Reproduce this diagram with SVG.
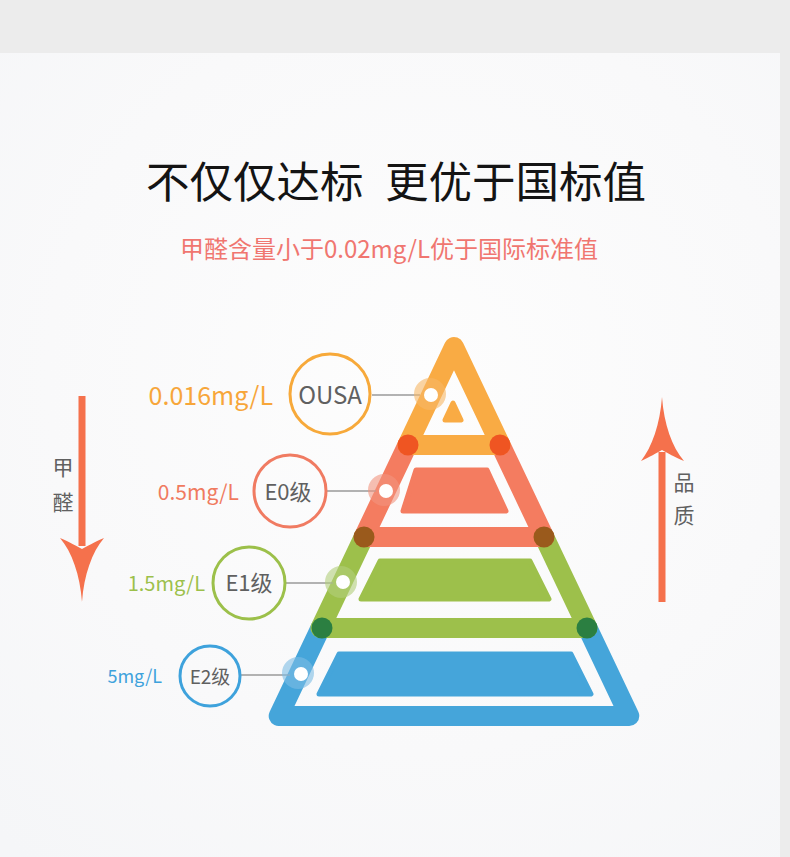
<svg xmlns="http://www.w3.org/2000/svg" width="790" height="857" viewBox="0 0 790 857">
  <defs>
    <radialGradient id="bg" cx="420" cy="380" r="620" gradientUnits="userSpaceOnUse">
      <stop offset="0" stop-color="#fdfdfd"/>
      <stop offset="0.6" stop-color="#f9f9fa"/>
      <stop offset="1" stop-color="#f5f6f8"/>
    </radialGradient>
    <style>
      text { font-family: "Noto Sans CJK SC", "Noto Sans", sans-serif; }
      .tier { fill: none; stroke-width: 20; stroke-linejoin: round; }
      .inner { stroke-width: 5; stroke-linejoin: round; }
      .conn { stroke: #9a9a9a; stroke-width: 1.6; fill: none; }
      .ring { fill: none; stroke-width: 3; }
      .lbl { fill: #606060; text-anchor: middle; }
      .val { text-anchor: end; }
      .dot { fill: #ffffff; }
      .halo { opacity: 0.6; }
      .arrow { fill: #f5714c; }
    </style>
  </defs>

  <rect x="0" y="0" width="790" height="857" fill="#ececec"/>
  <rect x="0" y="53" width="780" height="804" fill="url(#bg)"/>

  <text x="146" y="198" font-size="43.5" fill="#141414">不仅仅达标 <tspan x="385">更优于国标值</tspan></text>
  <text x="389" y="258" font-size="24" fill="#f07670" text-anchor="middle">甲醛含量小于0.02mg/L优于国际标准值</text>

  <g id="arrow-down">
    <rect class="arrow" x="78.5" y="396" width="7" height="150"/>
    <path class="arrow" d="M82,602 C80,575 72,552 60,538 C70,542 76,546 82,549 C88,546 94,542 104,538 C92,552 84,575 82,602 Z"/>
    <text class="lbl" x="63" y="475" font-size="21">甲</text>
    <text class="lbl" x="63" y="510" font-size="21">醛</text>
  </g>

  <g id="arrow-up">
    <rect class="arrow" x="658.5" y="452" width="7" height="150"/>
    <path class="arrow" d="M662,397 C660,424 652,447 641,461 C650,457 656,453 662,450 C668,453 674,457 684,461 C672,447 664,424 662,397 Z"/>
    <text class="lbl" x="684" y="490" font-size="21">品</text>
    <text class="lbl" x="684" y="523" font-size="21">质</text>
  </g>

  <g id="tier-blue">
    <polygon class="tier" stroke="#45a5da" points="320.5,628 278.7,716 629.3,716 587.5,628"/>
    <polygon class="inner" fill="#45a5da" stroke="#45a5da" points="339,654 571,654 591,694 319,694"/>
  </g>
  <g id="tier-green">
    <polygon class="tier" stroke="#9dc04b" points="363.8,537 320.5,628 587.5,628 544.2,537"/>
    <polygon class="inner" fill="#9dc04b" stroke="#9dc04b" points="380,561 530,561 549,599 361,599"/>
  </g>
  <g id="tier-red">
    <polygon class="tier" stroke="#f47c60" points="407.5,445 363.8,537 544.2,537 500.5,445"/>
    <polygon class="inner" fill="#f47c60" stroke="#f47c60" points="416,470 487,470 506,511 403,511"/>
  </g>
  <g id="tier-orange">
    <polygon class="tier" stroke="#f9ab44" points="454,347 407.5,445 500.5,445"/>
    <polygon class="inner" fill="#f9ab44" stroke="#f9ab44" points="453,403 461,420 445,420"/>
  </g>

  <g id="joints">
    <circle cx="408" cy="445" r="10.5" fill="#ef5522"/>
    <circle cx="500" cy="445" r="10.5" fill="#ef5522"/>
    <circle cx="364" cy="537" r="10.5" fill="#9a5a1c"/>
    <circle cx="544" cy="537" r="10.5" fill="#9a5a1c"/>
    <circle cx="322" cy="628" r="10.5" fill="#2b7f41"/>
    <circle cx="587" cy="628" r="10.5" fill="#2b7f41"/>
  </g>

  <g id="connectors">
    <line class="conn" x1="372" y1="395" x2="420" y2="395"/>
    <line class="conn" x1="327" y1="491" x2="376" y2="491"/>
    <line class="conn" x1="285" y1="583" x2="333" y2="583"/>
    <line class="conn" x1="241" y1="675" x2="290" y2="675"/>
  </g>

  <g id="node-ousa">
    <circle class="halo" cx="430" cy="394" r="16" fill="#f7b765"/>
    <circle class="dot" cx="431" cy="395" r="7"/>
    <circle class="ring" cx="330" cy="394" r="40" stroke="#f7a93a"/>
    <text class="lbl" x="330" y="404" font-size="24">OUSA</text>
    <text class="val" x="273" y="405" font-size="25" fill="#f7a63a">0.016mg/L</text>
  </g>
  <g id="node-e0">
    <circle class="halo" cx="384" cy="490" r="16" fill="#f2957f"/>
    <circle class="dot" cx="386" cy="491" r="7"/>
    <circle class="ring" cx="290" cy="491" r="36" stroke="#f07b62"/>
    <text class="lbl" x="288" y="500" font-size="22">E0级</text>
    <text class="val" x="239" y="500" font-size="21" fill="#f07a5f">0.5mg/L</text>
  </g>
  <g id="node-e1">
    <circle class="halo" cx="341" cy="582" r="16" fill="#b3cf7c"/>
    <circle class="dot" cx="343" cy="582" r="7"/>
    <circle class="ring" cx="249" cy="583" r="36" stroke="#9cc04a"/>
    <text class="lbl" x="249" y="591" font-size="22">E1级</text>
    <text class="val" x="205" y="591" font-size="20" fill="#9cc04a">1.5mg/L</text>
  </g>
  <g id="node-e2">
    <circle class="halo" cx="298" cy="673" r="16" fill="#7dbde4"/>
    <circle class="dot" cx="301" cy="674" r="7"/>
    <circle class="ring" cx="210" cy="676" r="30" stroke="#3ea2dc" stroke-width="2.5"/>
    <text class="lbl" x="210" y="684" font-size="19">E2级</text>
    <text class="val" x="162" y="683" font-size="18" fill="#3ea2dc">5mg/L</text>
  </g>
</svg>
